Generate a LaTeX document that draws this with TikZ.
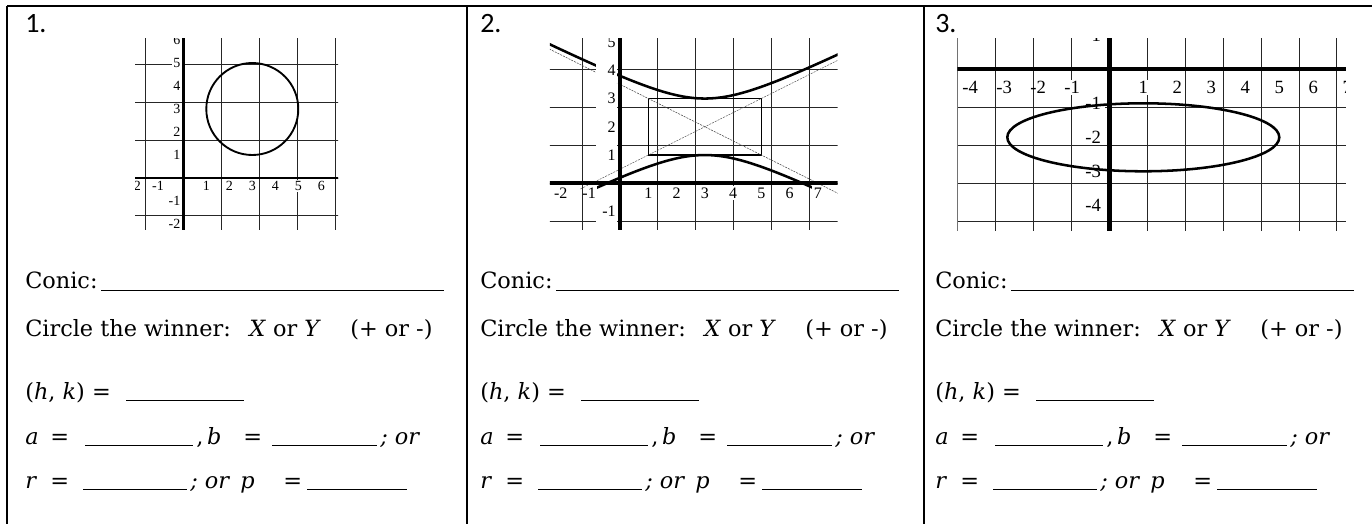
\documentclass[tikz,border=0pt]{standalone}
\usepackage{fontspec}
\setmainfont{DejaVu Serif}
\newfontfamily\numfont{Carlito}
\newfontfamily\tickfont{Liberation Serif}
% x labels: minus hangs to the left of the digit
\newcommand\ticknum[1]{\ifnum#1<0 \llap{-}\number\numexpr -1*(#1)\relax\else#1\fi}

\begin{document}
\begin{tikzpicture}[x=0.75pt,y=-0.75pt]
    \tikzset{frame/.style={line width=1.5pt},
      gridline/.style={black!85, line width=0.7pt},
      axisline/.style={line width=#1},
      conic/.style={line width=#1},
      asym/.style={black!70, line width=0.4pt, dash pattern=on 1.5pt off 0.8pt},
      ticklbl/.style={font=\tickfont\fontsize{#1}{#1}\selectfont, fill=white, inner sep=1pt},
      num/.style={font=\numfont\fontsize{21}{21}\selectfont, anchor=base west, inner sep=0pt},
      txt/.style={font=\fontsize{16.8}{16.8}\selectfont, anchor=base west, inner sep=0pt},
      blank/.style={line width=0.7pt}
    }
    \useasboundingbox (0,0) rectangle (1372,524);

    % table
    \draw[frame, line width=1.7pt] (7,6) -- (1372,6);
    \foreach \xd in {7,467,924}
      \draw[frame] (\xd,6) -- (\xd,524);

    % the three answer blocks
    \foreach \n/\cx in {1/25, 2/480, 3/935} {
      \node[num] (num\n) at (\cx,33) {\n.};
      \node[txt] (conic\n) at (\cx,289) {Conic:};
      \draw[blank] (\cx+76,290.5) -- (\cx+419,290.5);
      \node[txt] (winner\n) at (\cx,336) {Circle the winner:};
      \node[txt] (xy\n) at (\cx+224,336) {\textit{X} or \textit{Y}};
      \node[txt] (sign\n) at (\cx+325,336) {(+ or -)};
      \node[txt] (hk\n) at (\cx,399) {(\textit{h}, \textit{k}) =};
      \draw[blank] (\cx+101,400.5) -- (\cx+219,400.5);
      \node[txt] (a\n) at (\cx,444) {\textit{a}};
      \node[txt] (aeq\n) at (\cx+25,444) {=};
      \draw[blank] (\cx+60,445.5) -- (\cx+168,445.5);
      \node[txt] (b\n) at (\cx+171,444) {,\,\textit{b}};
      \node[txt] (beq\n) at (\cx+218,444) {=};
      \draw[blank] (\cx+247,445.5) -- (\cx+352,445.5);
      \node[txt] (bor\n) at (\cx+355,444) {\textit{; or}};
      \node[txt] (r\n) at (\cx,488) {\textit{r}};
      \node[txt] (req\n) at (\cx+25,488) {=};
      \draw[blank] (\cx+58,489.5) -- (\cx+162,489.5);
      \node[txt] (ror\n) at (\cx+165,488) {\textit{; or}};
      \node[txt] (p\n) at (\cx+215,488) {\textit{p}};
      \node[txt] (peq\n) at (\cx+258,488) {=};
      \draw[blank] (\cx+282,489.5) -- (\cx+382,489.5);
    }

    % graph 1: circle
    \begin{scope}[shift={(183.3,178)}, x=17.25pt, y=17.25pt]
      \clip (-2.1,-2.26) rectangle (6.73,6.07);
      \draw[gridline] (-3,-3) grid (7,7);
      \draw[axisline=2.2pt] (-3,0) -- (7,0) (0,-3) -- (0,7);
      \draw[conic=1.4pt] (3,3) circle (2);
      \foreach \t in {-2,-1,1,2,3,4,5,6}
        \node[ticklbl=10.5, anchor=north] (ga-x\t) at (\t,-0.07) {\ticknum{\t}};
      \foreach \t in {-2,-1,1,2,3,4,5,6}
        \node[ticklbl=10.5, anchor=east] (ga-y\t) at (-0.06,\t) {\t};
    \end{scope}

    % graph 2: hyperbola
    \begin{scope}[shift={(620,183.3)}, x=21.19pt, y=21.19pt]
      \clip (-2.48,-1.65) rectangle (7.7,5.13);
      \draw[gridline] (-3,-2) grid (8,6);
      \draw[line width=0.9pt] (1,1) rectangle (5,3);
      \draw[asym] (-2.6,4.8) -- (7.8,-0.4);
      \draw[asym] (-1.4,-0.2) -- (7.8,4.4);
      \draw[conic=1.9pt] plot[smooth, domain=-2.6:7.8, samples=60] (\x,{2+sqrt(1+(\x-3)^2/4)});
      \draw[conic=1.9pt] plot[smooth, domain=-0.9:6.9, samples=50] (\x,{2-sqrt(1+(\x-3)^2/4)});
      \draw[axisline=3pt] (-3,0) -- (8,0) (0,-2) -- (0,6);
      \foreach \t in {-2,-1,1,2,3,4,5,6,7}
        \node[ticklbl=12, anchor=north] (gb-x\t) at (\t,-0.1) {\ticknum{\t}};
      \foreach \t in {-2,-1,1,2,3,4,5}
        \node[ticklbl=12, anchor=east, text width=14pt, align=right, minimum height=19pt] (gb-y\t) at (-0.1,\t) {\t};
    \end{scope}

    % graph 3: ellipse
    \begin{scope}[shift={(1109.3,69.3)}, x=25.5pt, y=25.5pt]
      \clip (-4.47,-4.73) rectangle (6.96,0.91);
      \draw[gridline] (-5,-6) grid (8,2);
      \draw[axisline=3.3pt] (-5,0) -- (8,0) (0,-6) -- (0,2);
      \foreach \t in {-4,-3,-2,-1,1,2,3,4,5,6,7}
        \node[ticklbl=14, anchor=north] (gc-x\t) at (\t,-0.3) {\ticknum{\t}};
      \foreach \t in {1,-1,-2,-3,-4,-5}
        \node[ticklbl=14, anchor=east, inner xsep=3pt] (gc-y\t) at (-0.12,\t) {\t};
      \draw[conic=1.9pt] (1,-2) ellipse [x radius=4, y radius=1];
    \end{scope}
\end{tikzpicture}
\end{document}
